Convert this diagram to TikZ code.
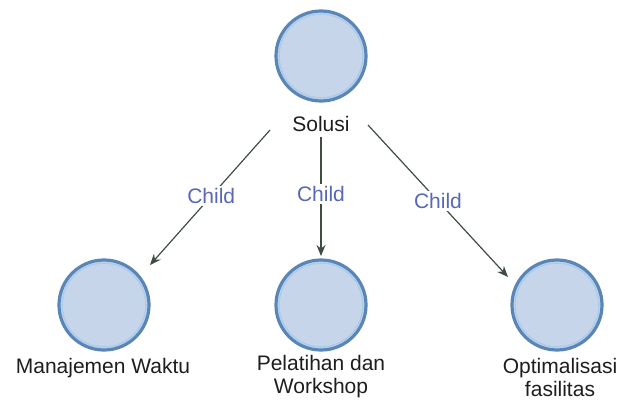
\documentclass[tikz,border=0pt]{standalone}
\usepackage{fontspec}
\setmainfont{Liberation Sans}
\usetikzlibrary{arrows.meta}
\definecolor{cfill}{HTML}{C6D5E9}
\definecolor{cdraw}{HTML}{5A86B7}
\definecolor{cring}{HTML}{A9CBEE}
\definecolor{cedge}{HTML}{3E4C42}
\definecolor{clab}{HTML}{5868B4}
\definecolor{ctext}{HTML}{1E1E1E}
\tikzset{
  topic/.style={circle, minimum size=90pt, inner sep=0pt, fill=cfill, draw=cdraw, line width=3.2pt,
    path picture={\draw[cring, line width=1.3pt] (path picture bounding box.center) circle (41.9pt);}},
  caption/.style={font=\fontsize{21}{23}\selectfont, text=ctext, align=center, inner sep=0pt},
  edge/.style={draw=cedge, line width=1.2pt, -{Stealth[length=11pt,width=9pt]}},
  elabel/.style={font=\fontsize{21}{23}\selectfont, text=clab, fill=white, inner sep=2pt}
}
\begin{document}
\begin{tikzpicture}[x=1pt,y=-1pt]
\fill[white] (0,0) rectangle (619,401);
\useasboundingbox (0,0) rectangle (619,401);
% nodes
\node[topic] (c0) at (321,56) {};
\node[caption] (l0) at (321,124) {Solusi};
\node[topic] (c1) at (104,305) {};
\node[caption] (l1) at (103,368) {Manajemen Waktu};
\node[topic] (c2) at (321,305) {};
\node[caption] (l2) at (321,377) {Pelatihan dan\\Workshop};
\node[topic] (c3) at (557,305) {};
\node[caption] (l3) at (560,377) {Optimalisasi\\fasilitas};
% connector ends
\coordinate (s1) at (270,130);
\coordinate (e1) at (150,265);
\coordinate (s2) at (321,137);
\coordinate (e2) at (321,256);
\coordinate (s3) at (368,125);
\coordinate (e3) at (508,277);
% connectors
\draw[edge] (s1) -- (e1) node[elabel, pos=0.49] {Child};
\draw[edge] (s2) -- (e2) node[elabel, pos=0.48] {Child};
\draw[edge] (s3) -- (e3) node[elabel, pos=0.5] {Child};
\end{tikzpicture}
\end{document}
